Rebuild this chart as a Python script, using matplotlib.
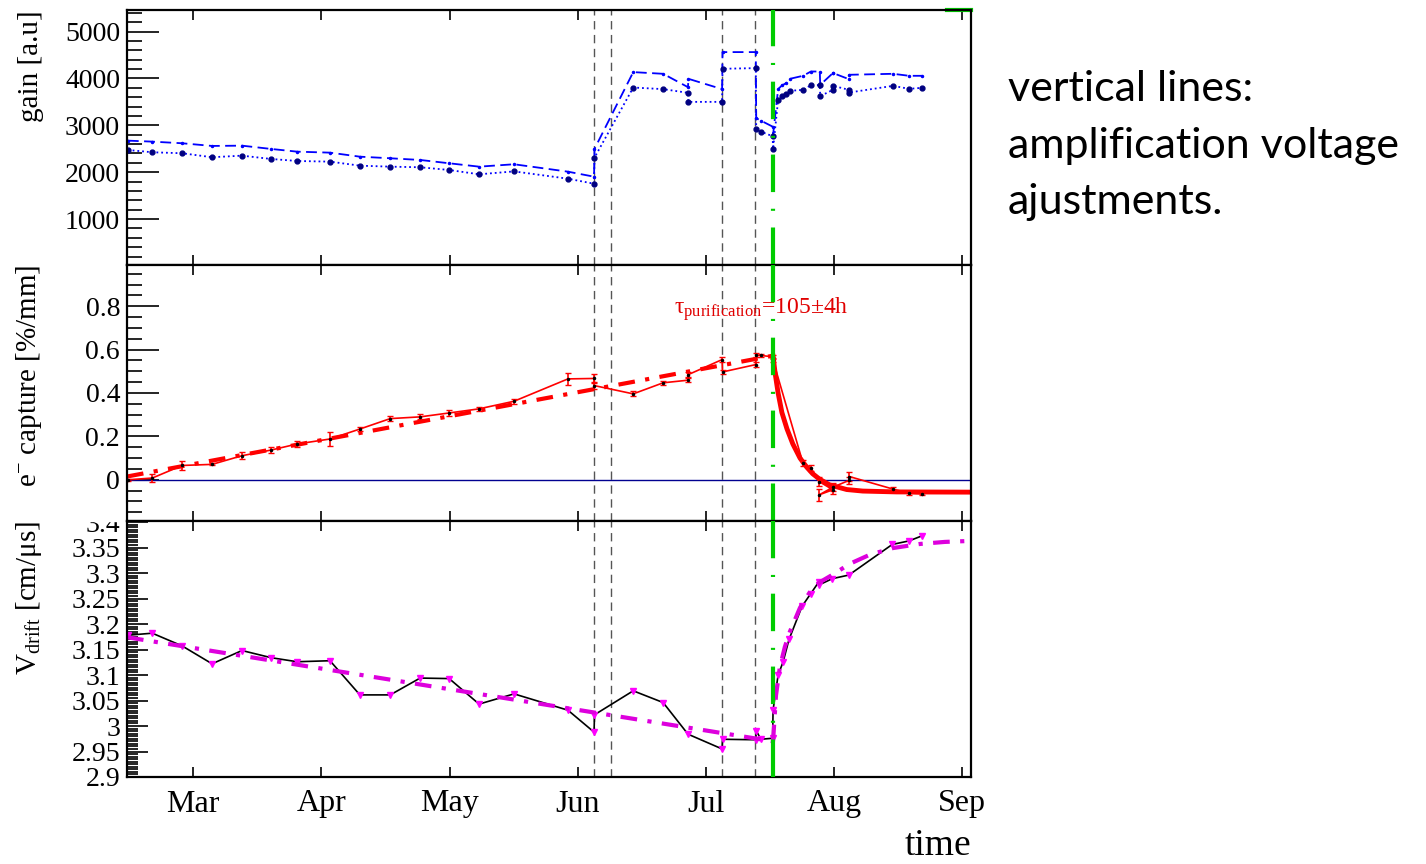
import matplotlib.pyplot as plt
from matplotlib import ticker
from matplotlib.patches import Rectangle

plt.rcParams['font.family'] = 'Liberation Serif'
plt.rcParams['mathtext.fontset'] = 'custom'
plt.rcParams['mathtext.rm'] = 'Liberation Serif'
plt.rcParams['mathtext.it'] = 'Liberation Serif:italic'

# x in days since 1 Feb
months = ['Mar', 'Apr', 'May', 'Jun', 'Jul', 'Aug', 'Sep']
month_day = [28 + 30.44 * i for i in range(len(months))]
hv_days = [123.2, 127.2, 153.6, 161.4]   # amplification voltage changes
purif_day = 165.7                          # purification start

# gain panel
gain_day = [12.5, 18.3, 25.4, 32.5, 39.6, 46.5, 52.7, 60.5, 67.6, 74.8,
            81.9, 88.8, 95.9, 104.2, 117.0, 123.2, 123.3, 132.5, 139.6, 145.5,
            145.6, 153.6, 153.7, 161.6, 161.7, 162.8, 165.6, 165.7, 166.9, 167.8,
            168.8, 169.7, 172.8, 174.7, 176.8, 176.9, 179.9, 180.0, 183.7, 183.8,
            194.2, 198.0, 201.1]
gain_hi = [2673, 2652, 2617, 2560, 2566, 2496, 2438, 2417, 2331, 2297,
           2261, 2190, 2118, 2169, 2011, 1904, 2496, 4135, 4099, 3814,
           3992, 3772, 4562, 4562, 3152, 3100, 2972, 2795, 3772, 3850,
           3900, 3992, 4056, 4148, 4148, 3863, 4113, 4113, 3985, 4078,
           4099, 4056, 4056]
gain_lo = [2474, 2425, 2404, 2319, 2353, 2282, 2239, 2225, 2139, 2118,
           2105, 2047, 1955, 2017, 1861, 1754, 2310, 3806, 3772, 3693,
           3500, 3500, 4206, 4220, 2917, 2866, 2767, 2496, 3543, 3628,
           3678, 3735, 3757, 3857, 3857, 3622, 3757, 3842, 3757, 3700,
           3842, 3778, 3800]

# electron capture panel
cap_day = [12.5, 18.3, 25.4, 32.5, 39.6, 46.5, 52.7, 60.5, 67.6, 74.8,
           81.9, 88.8, 95.9, 104.2, 117.0, 123.2, 123.3, 132.5, 139.6, 145.5,
           145.6, 153.6, 153.7, 161.6, 161.7, 162.8, 165.6, 165.7, 172.8, 174.7,
           176.6, 179.9, 176.7, 179.95, 183.7, 183.8, 194.2, 198.0, 201.1]
cap = [0.000, 0.008, 0.066, 0.071, 0.111, 0.137, 0.165, 0.188, 0.234, 0.282,
       0.290, 0.308, 0.327, 0.362, 0.465, 0.467, 0.434, 0.396, 0.447, 0.459,
       0.485, 0.554, 0.497, 0.531, 0.574, 0.573, 0.567, 0.551, 0.077, 0.054,
       -0.008, -0.046, -0.069, -0.034, -0.003, 0.015, -0.043, -0.062, -0.065]
cap_err = [0.005, 0.018, 0.022, 0.005, 0.015, 0.015, 0.012, 0.03, 0.01, 0.01,
           0.012, 0.012, 0.01, 0.012, 0.028, 0.02, 0.015, 0.012, 0.008, 0.01,
           0.01, 0.01, 0.01, 0.012, 0.01, 0.008, 0.008, 0.01, 0.015, 0.015,
           0.02, 0.02, 0.028, 0.02, 0.015, 0.022, 0.008, 0.01, 0.006]
cap_fit_day = [12.3, 165.7]
cap_fit = [0.015, 0.572]
cap_decay_day = [165.7, 166.2, 166.9, 167.8, 169.0, 170.4, 172.1, 173.7, 175.1,
                 176.8, 179.2, 183.2, 187.0, 195.1, 212.7]
cap_decay = [0.570, 0.49, 0.40, 0.31, 0.235, 0.165, 0.10, 0.058, 0.028,
             0.002, -0.024, -0.045, -0.052, -0.056, -0.057]

# drift velocity panel
vd_day = [12.5, 18.3, 25.4, 32.5, 39.6, 46.5, 52.7, 60.5, 67.6, 74.8,
          81.9, 88.8, 95.9, 104.2, 117.0, 123.2, 123.3, 132.5, 139.6, 145.5,
          153.6, 153.7, 161.6, 161.7, 162.8, 165.6, 165.7, 166.9, 168.1, 169.5,
          172.6, 174.6, 176.6, 176.7, 179.8, 183.7, 194.0, 198.0, 201.1]
vd = [3.178, 3.182, 3.157, 3.122, 3.148, 3.134, 3.126, 3.128, 3.061, 3.061,
      3.094, 3.093, 3.043, 3.063, 3.031, 2.988, 3.022, 3.069, 3.046, 2.984,
      2.955, 2.974, 2.973, 2.991, 2.974, 2.976, 3.031, 3.100, 3.126, 3.170,
      3.235, 3.259, 3.283, 3.277, 3.289, 3.296, 3.356, 3.363, 3.373]
vd_fit_day = [12.3, 165.7]
vd_fit = [3.174, 2.970]
vd_rise_day = [165.7, 166.4, 167.3, 168.5, 169.7, 172.1, 174.4, 176.8, 179.9,
               183.9, 188.7, 194.2, 200.6, 206.5, 212.7]
vd_rise = [2.970, 3.06, 3.115, 3.155, 3.185, 3.232, 3.262, 3.282, 3.297,
           3.318, 3.336, 3.349, 3.357, 3.361, 3.363]

green = '#00cc00'
fig = plt.figure(figsize=(14.26, 8.64), dpi=100)
L, W = 127 / 1426, 844 / 1426
ax1 = fig.add_axes([L, 1 - 265 / 864, W, 255 / 864])
ax2 = fig.add_axes([L, 1 - 521 / 864, W, 256 / 864])
ax3 = fig.add_axes([L, 1 - 777 / 864, W, 256 / 864])


def frame(ax, lim, major, minor, tlen):
    ax.set_xlim(12.3, 212.7)
    ax.set_ylim(*lim)
    ax.set_xticks(month_day, labels=months)
    ax.yaxis.set_major_locator(ticker.FixedLocator(major))
    ax.yaxis.set_minor_locator(ticker.MultipleLocator(minor))
    ax.yaxis.set_major_formatter(ticker.FuncFormatter(lambda v, p: f'{round(v, 3):g}'))
    ax.tick_params(axis='y', which='major', direction='in', length=tlen[0], width=1.2,
                   labelsize=20, pad=5)
    ax.tick_params(axis='y', which='minor', direction='in', length=tlen[1], width=1.2)
    ax.tick_params(axis='x', direction='in', length=7, width=1.2, top=True,
                   labelsize=23, pad=9)
    for s in ax.spines.values():
        s.set_linewidth(1.6)
    for d in hv_days:
        ax.axvline(d, color='#555555', lw=1, ls=(0, (6, 4)))
    ax.axvline(purif_day, color=green, lw=3, ls=(0, (9, 4, 0.5, 4)), zorder=5)


frame(ax1, (20, 5460), [1000, 2000, 3000, 4000, 5000], 200, (23, 11))
frame(ax2, (-0.19, 0.99), [0, 0.2, 0.4, 0.6, 0.8], 0.05, (23, 11))
frame(ax3, (2.9, 3.402), [2.9 + 0.05 * i for i in range(11)], 0.005, (15, 8))
ax1.tick_params(axis='x', labelbottom=False)
ax2.tick_params(axis='x', labelbottom=False)

# gain
ax1.plot(gain_day, gain_hi, color='#0000ff', lw=1.3, ls=(0, (6, 3)),
         marker='.', ms=3)
ax1.plot(gain_day, gain_lo, color='#0000ff', lw=1.3, ls=':',
         marker='o', ms=3.5, mfc='#000080', mec='#000080')
ax1.plot([0.972, 1.0], [1.0, 1.0], transform=ax1.transAxes, color=green, lw=3,
         clip_on=False)
ax1.set_ylabel('gain [a.u]', fontsize=21, loc='top')
ax1.yaxis.set_label_coords(-0.098, 1.0)

# capture
ax2.axhline(0, color='#000090', lw=1)
ax2.errorbar(cap_day, cap, yerr=cap_err, color='red', lw=1.2, capsize=2,
             marker='.', ms=3, mfc='black', mec='black', ecolor='red')
ax2.plot(cap_fit_day, cap_fit, color='red', lw=3, ls=(0, (4, 2.5, 1, 2.5)))
ax2.plot(cap_decay_day, cap_decay, color='red', lw=3.5)
ax2.text(0.648, 0.81, '\u03c4$_{\\mathrm{purification}}$=105\u00b14h', color='#e00000',
         fontsize=17, transform=ax2.transAxes)
ax2.set_ylabel('e$^{-}$ capture [%/mm]', fontsize=21, loc='top')
ax2.yaxis.set_label_coords(-0.098, 1.0)

# drift velocity
ax3.plot(vd_day, vd, color='black', lw=1.2)
ax3.plot(vd_day, vd, ls='none', marker='v', ms=5, color='#ff00ff')
ax3.plot(vd_fit_day, vd_fit, color='#dd00dd', lw=3, ls=(0, (4, 2.5, 1, 2.5)))
ax3.plot(vd_rise_day, vd_rise, color='#dd00dd', lw=3, ls=(0, (4, 2.5, 1, 2.5)))
ax3.set_ylabel('V$_{\\mathrm{drift}}$ [cm/\u03bcs]', fontsize=21, loc='top')
ax3.yaxis.set_label_coords(-0.098, 1.0)
ax3.set_xlabel('time', fontsize=27, loc='right')
ax3.xaxis.set_label_coords(1.0, -0.2)

# hide upper half of the "3.4" label like the pad border does
fig.add_artist(Rectangle((60 / 1426, 1 - 521 / 864), 64 / 1426, 18 / 864,
                         transform=fig.transFigure, color='white', zorder=5))

fig.text(1008 / 1426, 1 - 70 / 864, 'vertical lines:\namplification voltage\najustments.',
         family='Lato', fontsize=31, va='top', linespacing=1.6)

fig.savefig('out.png', dpi=100)
